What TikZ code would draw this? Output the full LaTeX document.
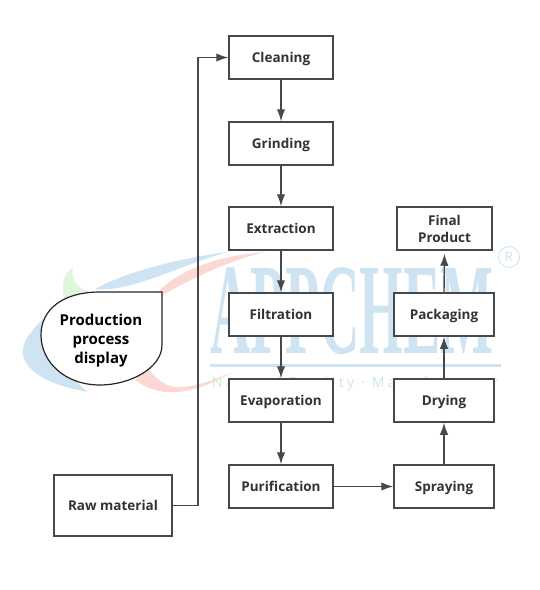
\documentclass[tikz,border=0pt]{standalone}
\usepackage{fontspec}
\setmainfont{Open Sans}
\newfontfamily\wmfont{Liberation Serif}
\usetikzlibrary{arrows.meta}
\definecolor{edge}{HTML}{45484C}
\definecolor{wmblue}{HTML}{CFE4F3}
\definecolor{wmred}{HTML}{FBD8D3}
\definecolor{wmgreen}{HTML}{DFF5DC}
\definecolor{wmtext}{HTML}{CFEBCF}
\tikzset{
  x=1pt,y=-1pt,
  stage/.style={draw=edge,line width=1.5pt,fill=white,minimum width=104pt,minimum height=43pt,inner sep=0pt,align=center,font=\fontsize{13.5}{16.5}\selectfont\bfseries,text=black!80,execute at begin node={\rule[-6pt]{0pt}{22.5pt}}},
  stagewide/.style={stage,minimum width=100pt},
  flow/.style={draw=edge,line width=1.4pt,-{Latex[length=12pt,width=8.5pt]}},
}
\begin{document}
\begin{tikzpicture}
\useasboundingbox (0,0) rectangle (540,590);
% watermark
\fill[wmred] (265,252) .. controls (215,256) and (170,272) .. (150,302) .. controls (172,290) and (215,264) .. (265,252) -- cycle;
\fill[wmblue] (228,252) .. controls (180,258) and (125,272) .. (95,289) .. controls (130,293) and (180,265) .. (228,252) -- cycle;
\fill[wmgreen] (73,267) .. controls (62,275) and (62,285) .. (64,300) .. controls (75,295) and (85,292) .. (92,292) .. controls (78,290) and (70,280) .. (73,267) -- cycle;
\fill[wmblue] (62,303) .. controls (38,322) and (20,340) .. (23,355) .. controls (28,378) and (65,388) .. (88,392) .. controls (65,375) and (52,345) .. (62,303) -- cycle;
\fill[wmred] (135,380) .. controls (150,391) and (165,393) .. (177,392) .. controls (195,391) and (215,382) .. (233,372) .. controls (210,382) and (190,388) .. (175,387) .. controls (165,386) and (155,378) .. (148,368) -- cycle;
\node[anchor=center,inner sep=0pt,text=wmblue] (wmlogo) at (352,311) {\resizebox{283pt}{86pt}{\wmfont\bfseries APPCHEM}};
\node[circle,draw=wmblue,line width=0.9pt,inner sep=0pt,minimum size=21pt,text=wmblue,font=\fontsize{13}{13}\selectfont] (wmreg) at (509,257) {R};
\fill[wmblue] (210,364) rectangle (501,367);
\node[anchor=center,inner sep=0pt,text=wmtext,font=\fontsize{14}{16}\selectfont\addfontfeatures{LetterSpace=24}] (wmline) at (355,384) {Natural Quality · Manufacturer};
% nodes
\node[stage] (clean) at (281,57.5) {Cleaning};
\node[stage] (grind) at (281,143.5) {Grinding};
\node[stage] (extract) at (281,228.5) {Extraction};
\node[stage] (filter) at (281,314.5) {Filtration};
\node[stage] (evap) at (281,400.5) {Evaporation};
\node[stage] (purif) at (281,486.5) {Purification};
\node[stagewide] (spray) at (444,486.5) {Spraying};
\node[stagewide] (dry) at (444,400.5) {Drying};
\node[stagewide] (pack) at (444,314.5) {Packaging};
\node[stage,minimum width=95pt,execute at begin node={\rule{0pt}{33pt}}] (final) at (444.5,228.5) {Final\\[0.5pt]Product};
\node[stage,minimum width=118pt,minimum height=61pt,line width=1.8pt] (raw) at (113,505.5) {Raw material};
% display shape
\draw[draw=black!85,line width=1.2pt,fill=white] (162,292) -- (162,345)
  .. controls (162,368) and (130,385) .. (100,385)
  .. controls (65,385) and (41,362) .. (41,335)
  .. controls (41,310) and (62,292) .. (100,292) -- cycle;
\node[inner sep=0pt,align=center,text=black,font=\fontsize{15}{19}\selectfont\bfseries] (display) at (101,340.5) {Production\\process\\display};
% connectors
\draw[flow] (clean) -- (grind);
\draw[flow] (grind) -- (extract);
\draw[flow] (extract) -- (filter);
\draw[flow] (filter) -- (evap);
\draw[flow] (evap) -- (purif);
\draw[flow] (purif) -- (spray);
\draw[flow] (spray) -- (dry);
\draw[flow] (dry) -- (pack);
\draw[flow,shorten >=3pt] (pack.north) -- (final.south);
\draw[flow] (raw.east) -- (198,505.5) -- (198,57.5) -- (clean.west);
\end{tikzpicture}
\end{document}
